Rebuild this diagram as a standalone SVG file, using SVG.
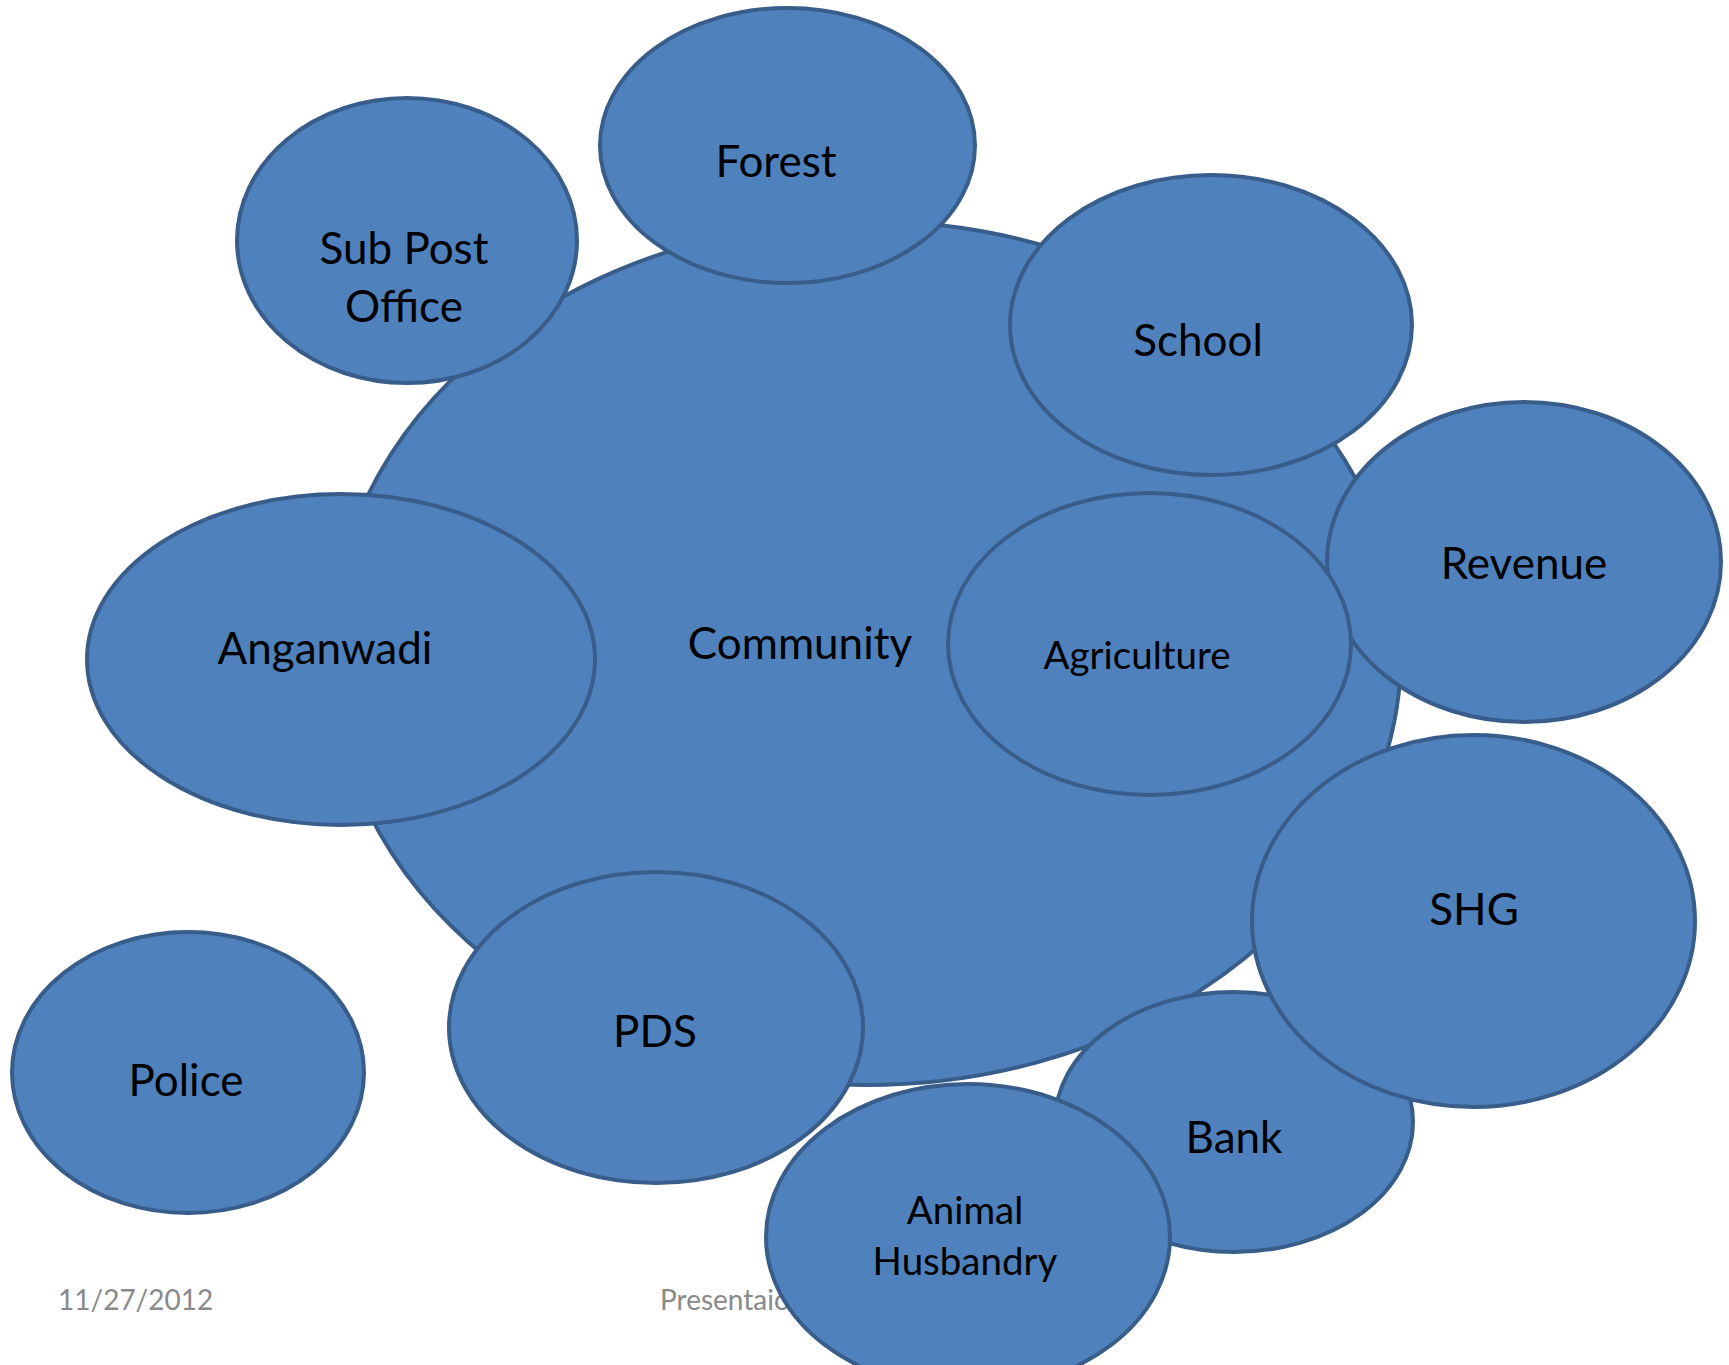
<svg xmlns="http://www.w3.org/2000/svg" width="1729" height="1365" viewBox="0 0 1729 1365">
  <style>
    .bubble { fill: #4F81BD; stroke: #385D8A; stroke-width: 4; }
    .label { font-family: Lato, "Liberation Sans", sans-serif; font-size: 44px; fill: #000; text-anchor: middle; }
    .label.small { font-size: 38.5px; }
    .footer { font-family: Lato, "Liberation Sans", sans-serif; font-size: 28px; fill: #898989; }
  </style>
  <rect width="1729" height="1365" fill="#FFFFFF"/>

  <!-- no connectors: the departments are bubbles overlapping the community -->
  <g id="connectors"/>

  <g id="community">
    <ellipse class="bubble" cx="866" cy="653" rx="535" ry="432"/>
    <text class="label" x="800" y="659">Community</text>
  </g>

  <g id="revenue">
    <ellipse class="bubble" cx="1524" cy="562" rx="197" ry="160"/>
    <text class="label" x="1524" y="579">Revenue</text>
  </g>

  <g id="agriculture">
    <ellipse class="bubble" cx="1149.5" cy="644" rx="201.5" ry="151"/>
    <text class="label small" x="1137" y="669">Agriculture</text>
  </g>

  <g id="school">
    <ellipse class="bubble" cx="1211" cy="325" rx="201" ry="150"/>
    <text class="label" x="1198" y="356">School</text>
  </g>

  <g id="forest">
    <ellipse class="bubble" cx="787.5" cy="145.5" rx="187.5" ry="137.5"/>
    <text class="label" x="776" y="177">Forest</text>
  </g>

  <g id="sub-post-office">
    <ellipse class="bubble" cx="407" cy="240.5" rx="170" ry="142.5"/>
    <text class="label" x="404" y="264">Sub Post</text>
    <text class="label" x="404" y="322">Office</text>
  </g>

  <g id="anganwadi">
    <ellipse class="bubble" cx="341" cy="659.5" rx="254" ry="165.5"/>
    <text class="label" x="325" y="664">Anganwadi</text>
  </g>

  <g id="pds">
    <ellipse class="bubble" cx="656" cy="1027.5" rx="207" ry="155.5"/>
    <text class="label" x="655" y="1047">PDS</text>
  </g>

  <g id="police">
    <ellipse class="bubble" cx="188" cy="1072.5" rx="176" ry="140.5"/>
    <text class="label" x="186" y="1096">Police</text>
  </g>

  <g id="bank">
    <ellipse class="bubble" cx="1234" cy="1122" rx="179" ry="130"/>
    <text class="label" x="1234" y="1153">Bank</text>
  </g>

  <g id="shg">
    <ellipse class="bubble" cx="1473.5" cy="921" rx="221.5" ry="186"/>
    <text class="label" x="1474" y="925">SHG</text>
  </g>

  <!-- slide footer -->
  <g id="footer">
    <text class="footer" x="58" y="1310">11/27/2012</text>
    <text class="footer" x="660" y="1310">Presentaion</text>
  </g>

  <g id="animal-husbandry">
    <ellipse class="bubble" cx="968" cy="1237" rx="202" ry="153"/>
    <text class="label small" x="965" y="1224">Animal</text>
    <text class="label small" x="965" y="1275">Husbandry</text>
  </g>
</svg>
